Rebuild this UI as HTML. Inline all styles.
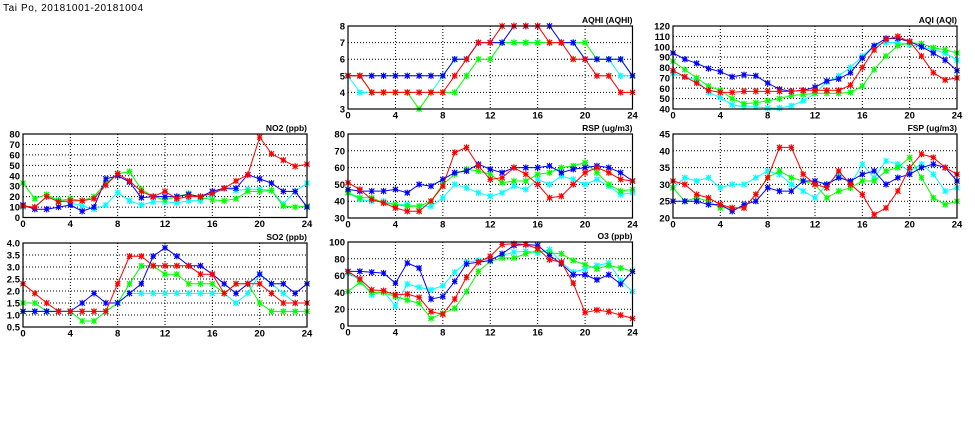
<!DOCTYPE html>
<html><head><meta charset="utf-8"><style>
html,body{margin:0;padding:0;background:#fff;}
svg{display:block;}
text{font-family:"Liberation Sans",sans-serif;}
</style></head><body>
<svg id="s" width="975" height="447" xmlns="http://www.w3.org/2000/svg">
<text x="3" y="11" font-size="10" textLength="140">Tai Po, 20181001-20181004</text>
</svg>
<script>
const P=[
{t:"AQHI (AQHI)",x:348,y:26,w:284.5,h:83,min:3,max:8,yt:[3,4,5,6,7,8],f:v=>v,
 b:[5,5,5,5,5,5,5,5,5,6,6,7,7,7,8,8,8,8,7,7,6,6,6,6,5],
 c:[5,4,4,4,4,4,4,4,5,6,6,7,7,7,7,7,7,7,7,7,6,6,6,5,5],
 g:[5,5,4,4,4,4,3,4,4,4,5,6,6,7,7,7,7,7,7,7,7,6,6,6,5],
 r:[5,5,4,4,4,4,4,4,4,5,6,7,7,8,8,8,8,7,7,6,6,5,5,4,4]},
{t:"AQI (AQI)",x:673,y:26,w:284,h:83,min:40,max:120,yt:[40,50,60,70,80,90,100,110,120],f:v=>v,
 b:[94,88,84,79,76,71,73,72,65,59,57,58,61,67,69,75,89,101,108,108,105,100,94,87,77],
 c:[74,71,68,56,51,44,42,42,41,41,43,48,55,66,72,80,91,101,104,104,102,100,97,94,87],
 g:[86,78,70,62,58,50,45,46,48,50,53,54,55,55,55,56,62,78,91,101,104,103,99,97,94],
 r:[77,71,65,58,56,56,57,57,57,57,57,58,58,58,58,63,80,97,107,110,105,91,75,68,70]},
{t:"NO2 (ppb)",x:23,y:134,w:284,h:83.5,min:0,max:80,yt:[0,10,20,30,40,50,60,70,80],f:v=>v,
 b:[12,8,8,10,12,6,10,37,40,34,19,20,20,20,22,20,25,28,28,41,37,33,25,25,10],
 c:[10,10,20,17,14,11,8,12,24,16,12,15,15,14,16,16,22,28,26,27,27,26,13,25,33],
 g:[33,18,22,16,18,16,20,33,42,44,27,20,17,20,23,19,17,16,18,25,25,26,11,10,11],
 r:[11,10,20,15,16,16,18,31,42,35,25,20,25,18,20,20,23,28,35,41,77,61,55,49,51]},
{t:"RSP (ug/m3)",x:348,y:134,w:284.5,h:84,min:30,max:80,yt:[30,40,50,60,70,80],f:v=>v,
 b:[47,46,46,46,47,45,50,49,53,57,58,62,59,57,60,60,60,61,57,59,60,61,60,57,52],
 c:[45,41,40,40,38,38,37,37,42,50,48,45,43,45,49,47,53,50,55,53,50,53,49,44,45],
 g:[45,42,42,39,38,37,37,40,50,56,59,58,56,51,52,52,56,57,60,61,63,57,50,46,47],
 r:[51,47,41,39,36,34,34,40,49,69,72,61,53,54,60,56,50,42,43,50,57,60,57,53,52]},
{t:"FSP (ug/m3)",x:673,y:134,w:284,h:84,min:20,max:45,yt:[20,25,30,35,40,45],f:v=>v,
 b:[25,25,25,24,24,22,24,25,29,28,28,31,31,30,32,31,33,34,30,32,33,35,36,35,31],
 c:[29,32,31,32,29,30,30,32,34,33,30,28,26,30,33,30,36,32,37,36,34,36,33,28,29],
 g:[29,25,26,25,23,23,23,27,32,34,32,31,30,26,28,29,31,31,34,35,38,32,26,24,25],
 r:[31,30,27,26,24,23,23,27,32,41,41,33,30,29,34,30,27,21,23,28,35,39,38,35,33]},
{t:"SO2 (ppb)",x:23,y:243,w:284,h:84,min:0.5,max:4.0,yt:[0.5,1,1.5,2,2.5,3,3.5,4],f:v=>v.toFixed(1),
 b:[1.15,1.15,1.15,1.15,1.15,1.5,1.9,1.5,1.5,1.9,2.3,3.45,3.8,3.45,3.05,3.05,2.7,2.3,1.9,2.3,2.7,2.3,2.3,1.9,2.3],
 c:[1.15,1.15,1.15,1.15,1.15,1.15,1.15,1.15,1.5,1.9,1.9,1.9,1.9,1.9,1.9,1.9,1.9,1.9,1.5,1.9,2.7,2.3,1.9,1.5,1.5],
 g:[1.5,1.5,1.15,1.15,1.15,0.75,0.75,1.15,1.5,2.3,3.05,3.05,2.7,2.7,2.3,2.3,2.3,1.9,2.3,2.3,1.5,1.15,1.15,1.15,1.15],
 r:[2.3,1.9,1.5,1.15,1.15,1.15,1.15,1.15,2.3,3.45,3.45,3.05,3.05,3.05,3.05,2.7,2.7,1.9,2.3,2.3,2.3,1.9,1.5,1.5,1.5]},
{t:"O3 (ppb)",x:348,y:242,w:284.5,h:84,min:0,max:100,yt:[0,20,40,60,80,100],f:v=>v,
 b:[65,65,64,63,51,75,69,32,35,53,74,76,78,86,96,97,96,84,74,61,61,55,61,50,65],
 c:[63,55,37,41,24,50,46,43,48,64,76,78,80,84,88,89,87,91,76,64,68,72,75,54,41],
 g:[41,52,40,40,35,31,27,9,15,21,41,65,77,81,81,86,90,87,86,78,73,68,72,69,65],
 r:[65,56,43,42,37,38,34,17,14,32,58,76,83,97,98,97,92,79,76,51,16,19,17,13,9]}
];
const cols={c:"#00ffff",g:"#00ff00",b:"#0000ff",r:"#ff0000"};
let h="";
for(const p of P){
 const X=i=>p.x+p.w*i/24, Y=v=>p.y+p.h*(1-(v-p.min)/(p.max-p.min));
 for(let i=4;i<24;i+=4) h+=`<line x1="${X(i)}" x2="${X(i)}" y1="${p.y}" y2="${p.y+p.h}" stroke="#000" stroke-width="1" stroke-dasharray="1,2"/>`;
 for(const v of p.yt){ if(v>p.min&&v<p.max) h+=`<line x1="${p.x}" x2="${p.x+p.w}" y1="${Y(v)}" y2="${Y(v)}" stroke="#000" stroke-width="1" stroke-dasharray="1,2"/>`;
  h+=`<text x="${p.x-3}" y="${Y(v)+3.5}" font-size="9.5" font-weight="bold" text-anchor="end">${p.f(v)}</text>`;}
 for(let i=0;i<=24;i+=4) h+=`<text x="${X(i)}" y="${p.y+p.h+9.5}" font-size="9.5" font-weight="bold" text-anchor="middle">${i}</text>`;
 h+=`<text x="${p.x+p.w}" y="${p.y-3}" font-size="8.5" font-weight="bold" text-anchor="end">${p.t}</text>`;
 for(const k of ["c","g","b","r"]){
  const d=p[k];let pts=d.map((v,i)=>X(i).toFixed(1)+","+Y(v).toFixed(1)).join(" ");
  h+=`<polyline points="${pts}" fill="none" stroke="${cols[k]}" stroke-width="1"/>`;
  d.forEach((v,i)=>{const x=X(i),y=Y(v),s=2.6;
   h+=`<path d="M${x-s},${y-s}L${x+s},${y+s}M${x-s},${y+s}L${x+s},${y-s}M${x},${y-s-0.6}L${x},${y+s+0.6}M${x-s},${y}L${x+s},${y}" stroke="${cols[k]}" stroke-width="1.1"/>`;
   h+=`<rect x="${x-2}" y="${y-2}" width="4" height="4" fill="${cols[k]}" opacity="0.35"/>`;});
 }
 h+=`<rect x="${p.x}" y="${p.y}" width="${p.w}" height="${p.h}" fill="none" stroke="#000" stroke-width="1.2"/>`;
}
document.getElementById("s").insertAdjacentHTML("beforeend",h);
</script>
</body></html>
